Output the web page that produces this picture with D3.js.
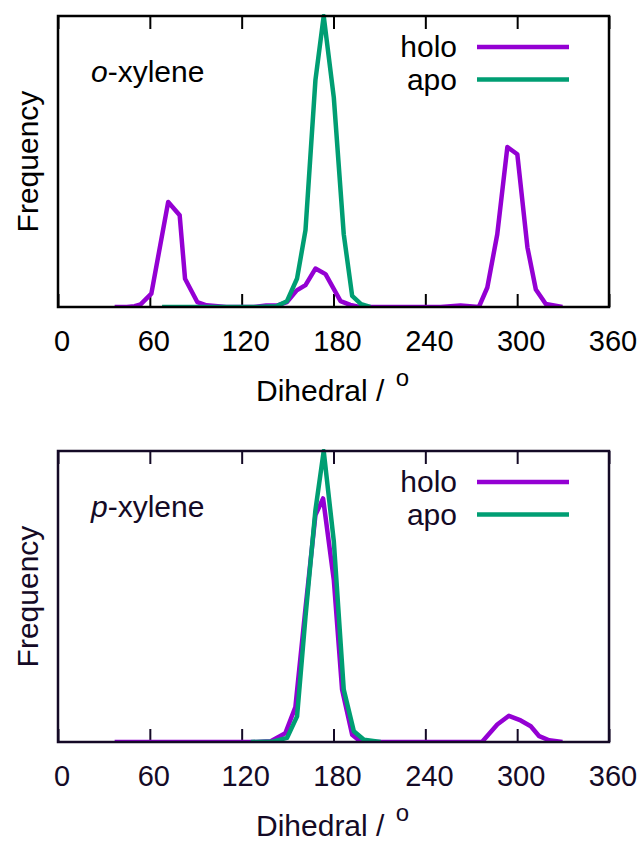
<!DOCTYPE html>
<html>
<head>
<meta charset="utf-8">
<script src="https://cdn.jsdelivr.net/npm/d3@7"></script>
<style>
	body { margin: 0; background: #fff; }
	svg { display: block; }
	text { font-family: "Liberation Sans", Arial, Helvetica, sans-serif; }
</style>
</head>
<body>
<svg id="chart" width="644" height="841"></svg>
<script>
// dihedral angle (deg) and normalised frequency
var oHoloDeg  = [37, 45, 50, 54, 61, 72, 79.5, 83, 91, 97, 110, 128, 136, 143, 149.6, 156, 161.7, 168.2, 174.8, 184.6, 191, 197, 220, 250, 263, 275, 280.5, 287, 293.6, 300.1, 306.7, 312.2, 318.7, 329.6];
var oHoloFreq = [0, 0, 0.003, 0.009, 0.046, 0.361, 0.315, 0.097, 0.017, 0.006, 0, 0, 0.005, 0.005, 0.017, 0.057, 0.075, 0.132, 0.113, 0.02, 0.007, 0, 0, 0, 0.005, 0, 0.067, 0.25, 0.55, 0.525, 0.205, 0.06, 0.01, 0];
var oApoDeg   = [68, 100, 130, 143, 149.6, 156.2, 161.7, 168.2, 173.6, 180.2, 186.7, 192.2, 198, 204];
var oApoFreq  = [0, 0, 0, 0.003, 0.02, 0.098, 0.264, 0.78, 1.0, 0.72, 0.25, 0.038, 0.01, 0];

var pHoloDeg  = [37, 60, 90, 120, 130, 139, 148.5, 155.1, 161.7, 168.2, 173.2, 180.2, 185.6, 192.2, 198, 220, 250, 277, 287, 294.6, 302.3, 308.9, 314.4, 320.9, 329.6];
var pHoloFreq = [0, 0, 0, 0, 0, 0.003, 0.03, 0.12, 0.46, 0.78, 0.837, 0.557, 0.18, 0.025, 0, 0, 0, 0, 0.06, 0.09, 0.074, 0.054, 0.02, 0.006, 0];
var pApoDeg   = [126, 140.7, 149.6, 156.2, 161.7, 168.2, 173.6, 180.2, 186.7, 193.3, 199.9, 210.8];
var pApoFreq  = [0, 0.002, 0.014, 0.088, 0.43, 0.797, 1.0, 0.69, 0.18, 0.037, 0.008, 0];

var xTicks = [0, 60, 120, 180, 240, 300, 360];
var seriesNames = ['holo', 'apo'];
var seriesColors = ['#9400d3', '#009e73'];

var svg = d3.select('#chart');

var panels = [
	{ label: 'o', top: 16, bottom: 307, ink: '#000',
		series: [[oHoloDeg, oHoloFreq], [oApoDeg, oApoFreq]] },
	{ label: 'p', top: 451, bottom: 742, ink: '#140a26',
		series: [[pHoloDeg, pHoloFreq], [pApoDeg, pApoFreq]] }
];

var LEFT = 58, RIGHT = 609;

var x = d3.scaleLinear().domain([0, 360]).range([LEFT, RIGHT]);

panels.forEach(function (p, i) {
	var y = d3.scaleLinear().domain([0, 1]).range([p.bottom, p.top]);
	var g = svg.append('g').attr('class', 'panel');

	g.append('clipPath')
		.attr('id', 'clip' + i)
		.append('rect')
		.attr('x', LEFT).attr('y', p.top - 2)
		.attr('width', RIGHT - LEFT).attr('height', p.bottom - p.top + 2);

	// tick marks, bottom and mirrored on top
	var bottomAxis = d3.axisBottom(x).tickValues(xTicks).tickSize(-13).tickFormat('');
	var topAxis = d3.axisTop(x).tickValues(xTicks).tickSize(-13).tickFormat('');
	g.append('g').attr('transform', 'translate(0,' + p.bottom + ')').call(bottomAxis);
	g.append('g').attr('transform', 'translate(0,' + p.top + ')').call(topAxis);
	g.selectAll('.domain').remove();
	g.selectAll('.tick line').attr('stroke', p.ink).attr('stroke-width', 2);

	// tick labels
	g.selectAll('text.xlab')
		.data(xTicks)
		.enter().append('text')
		.attr('class', 'xlab')
		.attr('x', function (d) { return x(d) + 4; })
		.attr('y', p.bottom + 44)
		.attr('text-anchor', 'middle')
		.attr('font-size', 29)
		.attr('fill', p.ink)
		.text(function (d) { return d; });

	// lines
	var line = d3.line()
		.x(function (d) { return x(d[0]); })
		.y(function (d) { return y(d[1]); });

	p.series.forEach(function (s, k) {
		var pts = s[0].map(function (d, j) { return [d, s[1][j]]; });
		g.append('path')
			.datum(pts)
			.attr('d', line)
			.attr('fill', 'none')
			.attr('stroke', seriesColors[k])
			.attr('stroke-width', 4.5)
			.attr('stroke-linejoin', 'round')
			.attr('clip-path', 'url(#clip' + i + ')');
	});

	// frame
	g.append('rect')
		.attr('x', LEFT).attr('y', p.top)
		.attr('width', RIGHT - LEFT).attr('height', p.bottom - p.top)
		.attr('fill', 'none')
		.attr('stroke', p.ink)
		.attr('stroke-width', 2.5);

	// legend
	seriesNames.forEach(function (name, k) {
		var ly = p.top + 31 + k * 32.5;
		g.append('text')
			.attr('x', 457)
			.attr('y', ly + 10)
			.attr('text-anchor', 'end')
			.attr('font-size', 30)
			.attr('fill', p.ink)
			.text(name);
		g.append('line')
			.attr('x1', 477).attr('x2', 569)
			.attr('y1', ly).attr('y2', ly)
			.attr('stroke', seriesColors[k])
			.attr('stroke-width', 4.5);
	});

	// molecule label
	var lab = g.append('text')
		.attr('x', 91)
		.attr('y', p.top + 66)
		.attr('font-size', 30)
		.attr('fill', p.ink);
	lab.append('tspan').attr('font-style', 'italic').text(p.label);
	lab.append('tspan').text('-xylene');

	// y label
	g.append('text')
		.attr('transform', 'translate(38,' + ((p.top + p.bottom) / 2) + ') rotate(-90)')
		.attr('text-anchor', 'middle')
		.attr('font-size', 30)
		.attr('fill', p.ink)
		.text('Frequency');

	// x label
	var xl = g.append('text')
		.attr('x', 256)
		.attr('y', p.bottom + 94)
		.attr('font-size', 30)
		.attr('fill', p.ink);
	xl.append('tspan').text('Dihedral / ');
	xl.append('tspan').attr('font-size', 24).attr('dy', -15).attr('dx', 3).text('o');
});
</script>
</body>
</html>
